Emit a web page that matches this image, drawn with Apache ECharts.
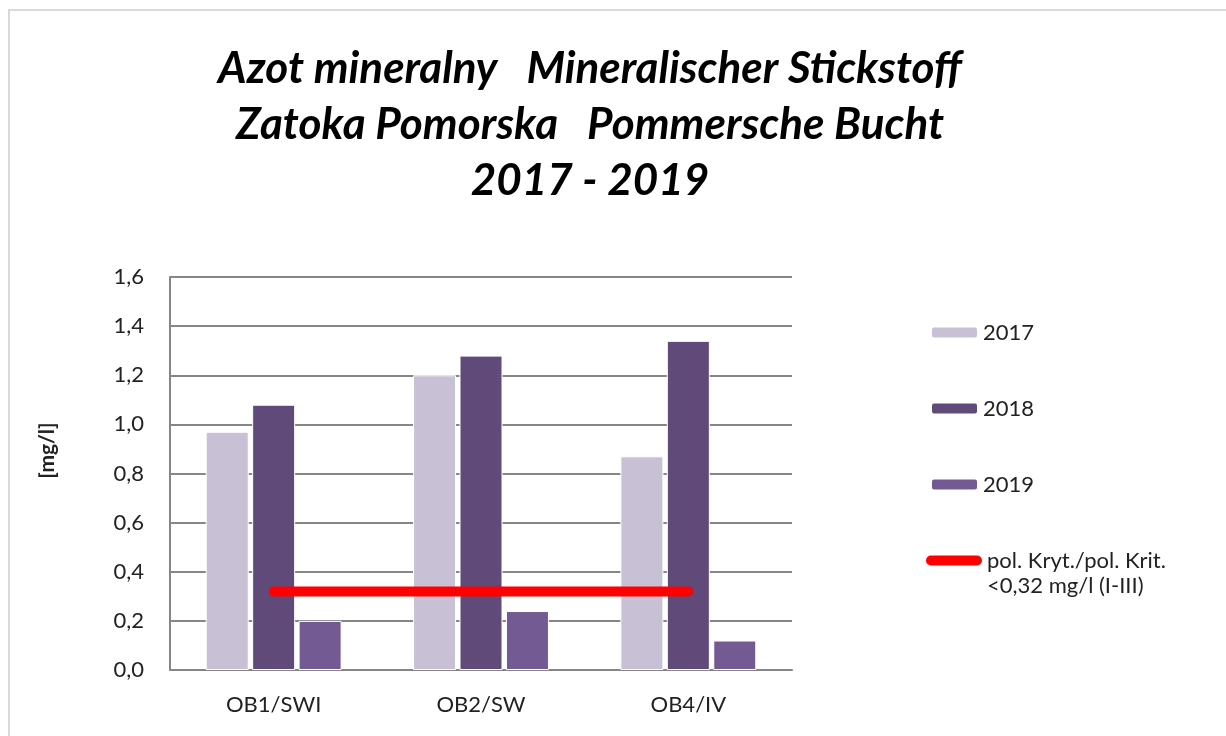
<!DOCTYPE html>
<html>
<head>
<meta charset="utf-8">
<script src="https://cdn.jsdelivr.net/npm/echarts@6/dist/echarts.min.js"></script>
<style>
  html, body { margin: 0; padding: 0; background: #fff; }
  #main { width: 1226px; height: 736px; }
</style>
</head>
<body>
<div id="main"></div>
<script>
// stacje pomiarowe
const categories = ['OB1/SWI', 'OB2/SW', 'OB4/IV'];
const years = ['2017', '2018', '2019'];
const v2017 = [0.97, 1.20, 0.87];
const v2018 = [1.08, 1.28, 1.34];
const v2019 = [0.20, 0.24, 0.12];
const limitName = 'pol. Kryt./pol. Krit.';
const limitNote = '<0,32 mg/l (I-III)';
const limitValues = [0.32, 0.32, 0.32];
const colors = ['#c8c0d5', '#5f4a7a', '#735a92'];

const chart = echarts.init(document.getElementById('main'), null, { renderer: 'canvas' });

const font = 'Lato, "Open Sans", sans-serif';

function barSeries(name, data, color) {
  return {
    name: name,
    type: 'bar',
    data: data,
    barWidth: 43,
    barGap: '8%',
    itemStyle: { color: color, borderColor: '#fff', borderWidth: 1 },
    z: 2
  };
}

function legendItem(name, top, isLine) {
  return {
    data: [isLine ? {
      name: name,
      icon: 'path://M5,0 L51,0 A5,5 0 0 1 51,10 L5,10 A5,5 0 0 1 5,0 Z',
      itemStyle: { color: '#ff0000' }
    } : name],
    left: isLine ? 921 : 925,
    top: top,
    orient: 'vertical',
    itemWidth: isLine ? 56 : 47,
    itemHeight: isLine ? 10 : 12,
    textStyle: { fontFamily: font, fontSize: 22, color: '#222', lineHeight: 27 },
    selectedMode: false
  };
}

const option = {
  backgroundColor: '#fff',
  animation: false,
  title: {
    text: 'Azot mineralny   Mineralischer Stickstoff\nZatoka Pomorska   Pommersche Bucht\n2017 - 2019',
    left: 585,
    textAlign: 'center',
    top: 36,
    textStyle: {
      fontFamily: font,
      fontSize: 44,
      fontWeight: 'bold',
      fontStyle: 'italic',
      color: '#000',
      lineHeight: 56
    }
  },
  legend: [
    legendItem('2017', 314, false),
    legendItem('2018', 390, false),
    legendItem('2019', 466, false),
    legendItem(limitName, 542, true)
  ],
  grid: { left: 170, right: 434, top: 277, bottom: 66 },
  xAxis: {
    type: 'category',
    data: categories,
    axisTick: { show: false },
    axisLine: { lineStyle: { color: '#868686', width: 2 } },
    axisLabel: { fontFamily: font, fontSize: 22, color: '#222', margin: 24 }
  },
  yAxis: {
    type: 'value',
    min: 0,
    max: 1.6,
    interval: 0.2,
    name: '[mg/l]',
    nameLocation: 'middle',
    nameGap: 112,
    nameRotate: 90,
    nameTextStyle: {
      fontFamily: font, fontSize: 21, fontWeight: 'bold', color: '#222',
      padding: [0, 0, 0, 46]
    },
    axisLine: { show: true, lineStyle: { color: '#868686', width: 2 } },
    axisTick: { show: false },
    splitLine: { lineStyle: { color: '#868686', width: 2 } },
    axisLabel: {
      fontFamily: font, fontSize: 22, color: '#222', margin: 26,
      formatter: v => v.toFixed(1).replace('.', ',')
    }
  },
  graphic: [{
    type: 'rect',
    shape: { x: 9, y: 10, width: 1300, height: 800 },
    style: { fill: 'none', stroke: '#d9d9d9', lineWidth: 2 },
    silent: true
  }, {
    type: 'text',
    left: 987,
    top: 575,
    style: { text: limitNote, font: '22px ' + font, fill: '#222' },
    silent: true
  }],
  series: [
    barSeries(years[0], v2017, colors[0]),
    barSeries(years[1], v2018, colors[1]),
    barSeries(years[2], v2019, colors[2]),
    {
      name: limitName,
      type: 'line',
      data: limitValues,
      symbol: 'none',
      lineStyle: { color: '#ff0000', width: 10, cap: 'round' },
      itemStyle: { color: '#ff0000' },
      z: 5
    }
  ]
};

chart.setOption(option);
</script>
</body>
</html>
